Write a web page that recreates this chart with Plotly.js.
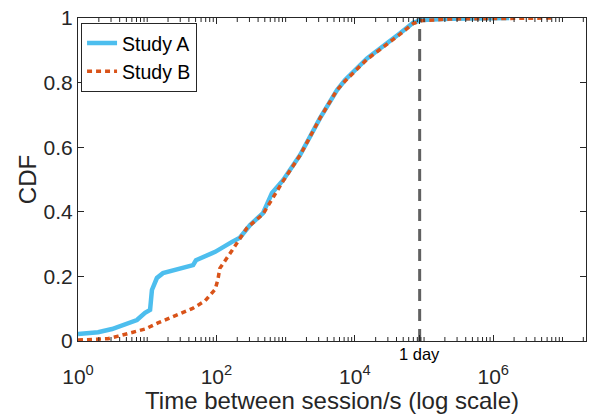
<!DOCTYPE html>
<html>
<head>
<meta charset="utf-8">
<script src="https://cdn.plot.ly/plotly-3.0.1.min.js"></script>
<style>html,body{margin:0;padding:0;background:#fff;}#chart{width:593px;height:414px;}</style>
</head>
<body>
<div id="chart"></div>
<script>
// Study A (seconds, CDF)
const studyA_x = [1, 1.95, 3.1, 4.8, 7.1, 9.3, 11, 11.7, 13.8, 16.9, 25, 46, 50.6, 96, 168, 218, 306, 471, 635, 918, 1620, 3140, 5530, 7220, 15000, 30200, 45000, 69500, 93800, 238000, 1000000, 1700000];
const studyA_y = [0.022, 0.027, 0.037, 0.05, 0.065, 0.087, 0.096, 0.158, 0.195, 0.21, 0.22, 0.235, 0.25, 0.276, 0.307, 0.32, 0.359, 0.396, 0.458, 0.498, 0.576, 0.69, 0.777, 0.808, 0.875, 0.922, 0.953, 0.985, 0.994, 0.998, 1.0, 1.0];
// Study B (seconds, CDF)
const studyB_x = [1, 1.95, 2.7, 3.8, 6.0, 9.3, 14.3, 25, 44.5, 68.5, 96, 105, 112, 168, 276, 471, 918, 1620, 3140, 5530, 7220, 15000, 30200, 45000, 69500, 93800, 238000, 1000000, 7300000];
const studyB_y = [0.003, 0.004, 0.007, 0.015, 0.026, 0.037, 0.056, 0.077, 0.10, 0.124, 0.16, 0.19, 0.225, 0.28, 0.35, 0.393, 0.495, 0.575, 0.69, 0.777, 0.805, 0.872, 0.92, 0.95, 0.983, 0.992, 0.997, 0.999, 1.0];
const seriesNames = ['Study A', 'Study B'];
const DAY_SECONDS = 86400;
const xTickVals = [1, 100, 10000, DAY_SECONDS, 1000000];
const xTickText = ['10<sup>0</sup>', '10<sup>2</sup>', '10<sup>4</sup>', '', '10<sup>6</sup>'];
const dayLabel = '1 day';

const axisColor = '#262626';
const font = 'Liberation Sans, Arial, Helvetica, sans-serif';

// minor tick marks (axis decoration): 1..9 within each decade, top and bottom edges
const minorTickVals = [];
for (let d = 0; d <= 7; d++) {
  for (let k = 1; k <= 9; k++) {
    const v = k * Math.pow(10, d);
    if (Math.log10(v) > 7.34) continue;
    if (!(k === 1 && d % 2 === 0)) minorTickVals.push(v);
  }
}
const minorLen = 4 / 323;
const shapes = [];
minorTickVals.forEach(v => {
  shapes.push({type: 'line', xref: 'x', yref: 'paper', x0: v, x1: v, y0: 0, y1: minorLen,
    line: {color: axisColor, width: 1}, layer: 'above'});
  shapes.push({type: 'line', xref: 'x', yref: 'paper', x0: v, x1: v, y0: 1, y1: 1 - minorLen,
    line: {color: axisColor, width: 1}, layer: 'above'});
});

const traces = [
  {x: [DAY_SECONDS, DAY_SECONDS], y: [0, 1], mode: 'lines', showlegend: false, hoverinfo: 'skip',
   line: {color: '#606060', width: 3, dash: '12px,8px'}},
  {x: studyA_x, y: studyA_y, name: seriesNames[0], mode: 'lines',
   line: {color: '#4DBEEE', width: 4.5}},
  {x: studyB_x, y: studyB_y, name: seriesNames[1], mode: 'lines',
   line: {color: '#D95319', width: 3.5, dash: '5px,4px'}}
];

const layout = {
  width: 593, height: 414,
  margin: {l: 78, r: 7, t: 18, b: 73, pad: 0},
  paper_bgcolor: '#fff', plot_bgcolor: '#fff',
  font: {family: font, color: axisColor},
  showlegend: true,
  legend: {x: 0.006, y: 0.985, xanchor: 'left', yanchor: 'top', bgcolor: '#fff',
    bordercolor: axisColor, borderwidth: 1, font: {size: 19.5, family: font, color: '#000'},
    itemwidth: 30, tracegroupgap: 0},
  xaxis: {
    type: 'log', range: [0, 7.34], tickmode: 'array', tickvals: xTickVals, ticktext: xTickText,
    ticks: 'inside', ticklen: 6, tickwidth: 1, tickcolor: axisColor,
    showline: true, linecolor: axisColor, linewidth: 1, mirror: 'ticks',
    showgrid: false, zeroline: false,
    tickfont: {size: 21, family: font, color: axisColor},
    ticklabelstandoff: 17,
    title: {text: 'Time between session/s (log scale)', font: {size: 24, family: font, color: axisColor}, standoff: 0},
    automargin: false
  },
  yaxis: {
    range: [0, 1], dtick: 0.2, tick0: 0,
    ticks: 'inside', ticklen: 6, tickwidth: 1, tickcolor: axisColor,
    showline: true, linecolor: axisColor, linewidth: 1, mirror: 'ticks',
    showgrid: false, zeroline: false,
    tickfont: {size: 21, family: font, color: axisColor},
    title: {text: 'CDF', font: {size: 24, family: font, color: axisColor}, standoff: 0},
    automargin: false
  },
  shapes: shapes,
  annotations: [{
    x: Math.log10(DAY_SECONDS), xref: 'x', y: 0, yref: 'paper', yanchor: 'top', xanchor: 'center',
    yshift: -2, text: dayLabel, showarrow: false, font: {size: 16.5, family: font, color: '#000'}
  }]
};

Plotly.newPlot('chart', traces, layout, {displayModeBar: false, staticPlot: true});
</script>
</body>
</html>
